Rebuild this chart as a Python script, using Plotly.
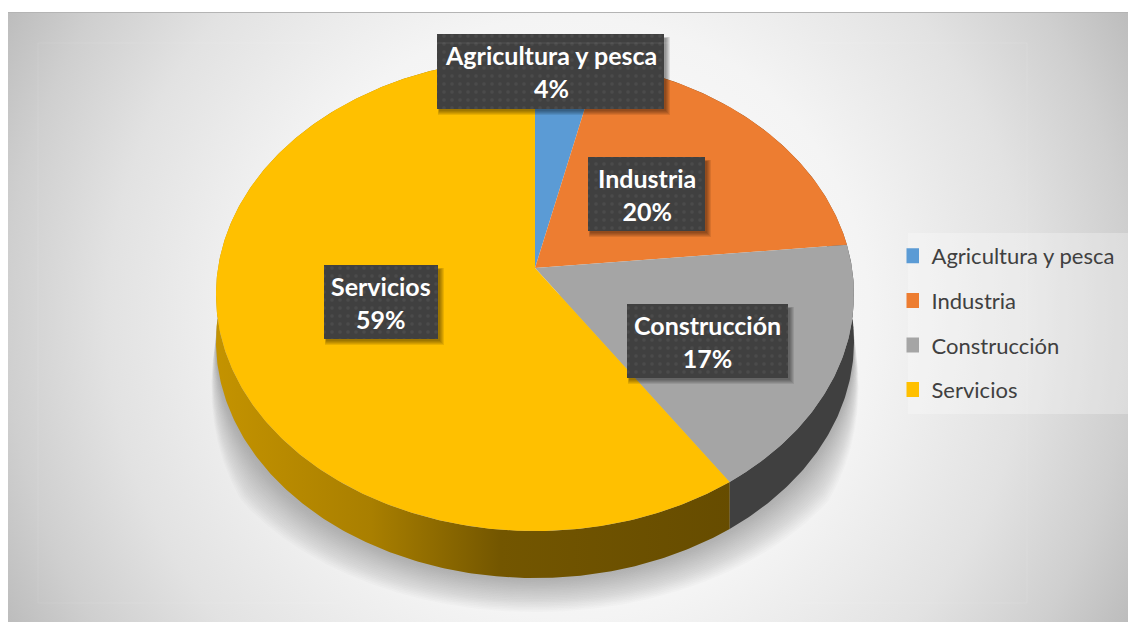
import numpy as np
import plotly.graph_objects as go

categories = ["Agricultura y pesca", "Industria", "Construcción", "Servicios"]
values = [3.6, 19.8, 17.2, 59.4]
top_colors = ["#5B9BD5", "#ED7D31", "#A5A5A5", "#FFC000"]
label_boxes = [(437, 664, 34, 109), (588, 705, 157, 231), (627, 788, 304, 378), (324, 438, 265, 339)]

CX, CY, A, B, K, DEPTH = 535, 268, 317, 233.6, 0.112, 47


def project(frac):
    t = 2 * np.pi * np.asarray(frac)
    X, Y = np.sin(t), np.cos(t)
    w = 1 + K * Y
    return CX + A * X / w, CY - B * Y / w


def arc(f0, f1, n=160):
    return project(np.linspace(f0, f1, max(3, int(n * (f1 - f0) * 4))))


def rect(x0, x1, y0, y1):
    return [x0, x1, x1, x0, x0], [y0, y0, y1, y1, y0]


fig = go.Figure()


def poly(x, y, color=None, **kw):
    fig.add_trace(go.Scatter(x=x, y=y, mode="lines", fill="toself", fillcolor=color,
                             line=dict(width=0), hoverinfo="skip", showlegend=False, **kw))


# chart background: circular gradient, square bbox cropped by white strips
x, y = rect(568 - 640, 568 + 640, 317 - 640, 317 + 640)
poly(x, y, fillgradient=dict(type="radial",
     colorscale=[[0, "#ffffff"], [0.47, "#f4f4f4"], [0.72, "#e2e2e2"], [0.88, "#cfcfcf"], [1, "#bcbcbc"]]))
for bx in [(0, 8, 0, 628), (1128, 1132, 0, 628), (0, 1132, 0, 12), (0, 1132, 622, 628)]:
    x, y = rect(*bx)
    poly(x, y, "white")
fig.add_shape(type="line", x0=8, x1=1128, y0=12.5, y1=12.5, line=dict(color="#b4b4b4", width=1))
fig.add_shape(type="rect", x0=38, x1=1027, y0=43, y1=603, line=dict(color="rgba(255,255,255,0.1)", width=1))

# legend panel
x, y = rect(908, 1128, 233, 414)
poly(x, y, "rgba(255,255,255,0.28)")

# soft shadow under the disc
ax, ay = arc(0.25, 0.78, 300)
ramp = np.clip((ay - 290) / 130, 0, 1)
N = 22
for i in range(N):
    u = 1 - i / (N - 1)
    e = 0.085 * u
    d = 34 * u
    sx = CX + (ax - CX) * (1 + e * ramp)
    sy = ay + DEPTH + d * ramp
    poly(sx, sy, "rgba(100,100,100,0.026)")

# side walls
edges = np.concatenate([[0], np.cumsum(values)]) / sum(values)
for i in [1, 2, 3]:
    tx, ty = arc(edges[i], edges[i + 1])
    wx = np.concatenate([tx, tx[::-1]])
    wy = np.concatenate([ty, ty[::-1] + DEPTH])
    if i == 3:
        poly(wx, wy, fillgradient=dict(type="horizontal", start=215, stop=735,
             colorscale=[[0, "#c49300"], [0.3, "#a97f00"], [0.55, "#735600"], [1, "#664c00"]]))
    elif i == 2:
        poly(wx, wy, "#404040")
    else:
        poly(wx, wy, "#8a4a1c")

# top faces
for i, c in enumerate(top_colors):
    tx, ty = arc(edges[i], edges[i + 1])
    poly(np.concatenate([[CX], tx, [CX]]), np.concatenate([[CY], ty, [CY]]), c)

# data label boxes
for (x0, x1, y0, y1), name, v in zip(label_boxes, categories, values):
    for s in range(5):
        x, y = rect(x0 + 1 + s * 0.3, x1 + 6 - s, y0 + 3 + s * 0.3, y1 + 6 - s)
        poly(x, y, "rgba(0,0,0,0.09)")
    x, y = rect(x0, x1, y0, y1)
    fig.add_trace(go.Scatter(x=x, y=y, mode="lines", fill="toself", line=dict(width=0),
                             fillcolor="#404040", hoverinfo="skip", showlegend=False,
                             fillpattern=dict(shape=".", bgcolor="#404040", fgcolor="#555555", size=8, solidity=0.15)))
    fig.add_annotation(x=(x0 + x1) / 2, y=(y0 + y1) / 2, text=f"<b>{name}</b><br><b>{round(v)}%</b>",
                       showarrow=False, font=dict(family="Lato", size=25, color="white"), align="center")

# legend entries
for name, c in zip(categories, top_colors):
    fig.add_trace(go.Scatter(x=[None], y=[None], mode="markers", name=name, legendgroup=name,
                             marker=dict(symbol="square", size=15, color=c)))

fig.update_layout(
    width=1132, height=628, margin=dict(l=0, r=0, t=0, b=0),
    paper_bgcolor="white", plot_bgcolor="white",
    xaxis=dict(range=[0, 1132], visible=False, fixedrange=True),
    yaxis=dict(range=[628, 0], visible=False, fixedrange=True),
    legend=dict(x=906.5 / 1132, y=1 - 235 / 628, xanchor="left", yanchor="top", indentation=-15,
                bgcolor="rgba(0,0,0,0)", tracegroupgap=13,
                font=dict(family="Lato", size=22, color="#404040")),
)
fig.write_html("out.html", config={"displayModeBar": False},
               post_script="document.body.style.margin='0';")
